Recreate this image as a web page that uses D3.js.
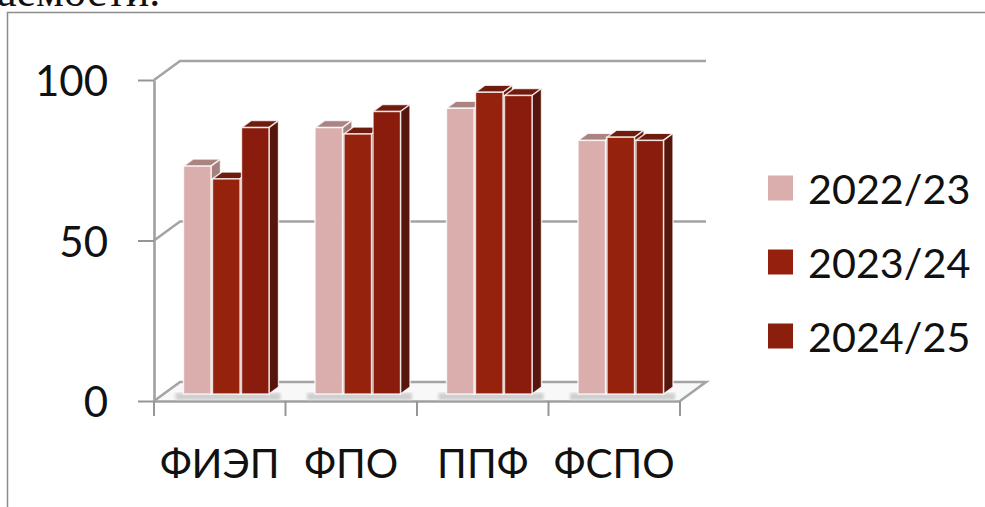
<!DOCTYPE html>
<html>
<head>
<meta charset="utf-8">
<script src="https://cdn.jsdelivr.net/npm/d3@7"></script>
<style>
  html, body { margin: 0; padding: 0; background: #fff; overflow: hidden; }
  text { font-family: Lato, "Open Sans", sans-serif; fill: #111; }
</style>
</head>
<body>
<div id="chart"></div>
<script>
const categories = ["ФИЭП", "ФПО", "ППФ", "ФСПО"];
const seriesNames = ["2022/23", "2023/24", "2024/25"];
const values2022 = [71, 83, 89, 79];
const values2023 = [67, 81, 94, 80];
const values2024 = [83, 88, 93, 79];
const seriesValues = [values2022, values2023, values2024];
const yTicks = [0, 50, 100];

const WIDTH = 985, HEIGHT = 507;
const faceColors = ["#d9aeac", "#95200e", "#8a1f0d"];
const topColors = ["#ab8482", "#6e1a0a", "#6e1a0a"];
const sideColors = ["#a5807f", "#6a1709", "#561307"];

const svg = d3.select("#chart").append("svg")
    .attr("width", WIDTH)
    .attr("height", HEIGHT);

const defs = svg.append("defs");
defs.append("filter").attr("id", "soft").append("feGaussianBlur").attr("stdDeviation", 0.45);
defs.append("filter").attr("id", "shadow").append("feGaussianBlur").attr("stdDeviation", 1.6);

// clipped line of the surrounding document, then the chart frame
svg.append("text")
    .attr("x", -3).attr("y", 6)
    .style("font-family", "'Liberation Serif', serif")
    .style("font-size", "44px")
    .text("аемости.");
svg.append("path")
    .attr("d", `M7.5,${HEIGHT} V12.5 H${WIDTH}`)
    .attr("fill", "none")
    .attr("stroke", "#8c8c8c")
    .attr("stroke-width", 1.5);

// scales: the front edge of the 3d box
const x = d3.scaleBand().domain(categories).range([154, 680]);
const y = d3.scaleLinear().domain([0, 100]).range([401, 80]);
const depth = { x: 26, y: -19 };        // front edge to back wall
const barShift = { x: 29.5, y: -7 };    // bars stand inside the box
const barDepth = { x: 9.5, y: -7 };
const barStep = 29, barWidth = 27.5;

const wall = svg.append("g").attr("filter", "url(#soft)");

// floor
wall.append("path")
    .attr("d", `M${x.range()[0]},${y(0)} L${x.range()[0] + depth.x},${y(0) + depth.y} H${x.range()[1] + depth.x} L${x.range()[1]},${y(0)} Z`)
    .attr("fill", "#f8f8f8");

// gridlines go along the left wall and the back wall
yTicks.forEach(t => {
    wall.append("path")
        .attr("d", `M${x.range()[0]},${y(t)} l${depth.x},${depth.y} H${x.range()[1] + depth.x}` + (t === 0 ? ` L${x.range()[1]},${y(0)}` : ""))
        .attr("fill", "none")
        .attr("stroke", "#a4a4a4")
        .attr("stroke-width", 2.6);
});

// axes
const yAxisCall = d3.axisLeft(y).tickValues(yTicks).tickSize(16).tickPadding(30).tickSizeOuter(0);
const yAxisGroup = svg.append("g")
    .attr("transform", `translate(${x.range()[0]},0)`)
    .call(yAxisCall);

const xAxisCall = d3.axisBottom(x).tickSize(0).tickPadding(48);
const xAxisGroup = svg.append("g")
    .attr("transform", `translate(0,${y(0)})`)
    .call(xAxisCall);

[yAxisGroup, xAxisGroup].forEach(g => {
    g.selectAll(".domain").attr("stroke", "#a0a0a0").attr("stroke-width", 2.6);
    g.selectAll("line").attr("stroke", "#969696").attr("stroke-width", 2);
    g.selectAll("text").style("font-size", "40.5px").attr("fill", "#111");
});
yAxisGroup.selectAll("text").style("font-size", "42px").attr("dy", "0.38em");

// x ticks sit on the band edges, not the centres
svg.append("g").selectAll("line")
    .data(categories.map(c => x(c)).concat(x.range()[1]))
    .enter().append("line")
    .attr("x1", d => d).attr("x2", d => d)
    .attr("y1", y(0)).attr("y2", y(0) + 15)
    .attr("stroke", "#969696")
    .attr("stroke-width", 2);

// soft shadow under each group of bars
svg.append("g").attr("filter", "url(#shadow)")
    .selectAll("rect").data(categories).enter().append("rect")
    .attr("x", d => x(d) + barShift.x - 8)
    .attr("y", y(0) + barShift.y - 1)
    .attr("width", barStep * 3 + 18)
    .attr("height", 7)
    .attr("fill", "#cfcfcf");

const marks = svg.append("g").attr("filter", "url(#soft)");

// drawn left to right so the next bar covers the side of the previous one
categories.forEach((c, ci) => {
    seriesValues.forEach((vals, si) => {
        const x0 = x(c) + barShift.x + si * barStep;
        const x1 = x0 + barWidth;
        const top = y(vals[ci]) + barShift.y;
        const bottom = y(0) + barShift.y;
        const g = marks.append("g")
            .attr("stroke", "#fff")
            .attr("stroke-width", 1.4)
            .attr("stroke-opacity", 0.8);
        g.append("path")   // top face
            .attr("d", `M${x0},${top} l${barDepth.x},${barDepth.y} H${x1 + barDepth.x} L${x1},${top} Z`)
            .attr("fill", topColors[si]);
        g.append("path")   // side face
            .attr("d", `M${x1},${top} l${barDepth.x},${barDepth.y} V${bottom + barDepth.y} L${x1},${bottom} Z`)
            .attr("fill", sideColors[si]);
        g.append("rect")   // front face
            .attr("x", x0)
            .attr("y", top)
            .attr("width", barWidth)
            .attr("height", bottom - top)
            .attr("fill", faceColors[si]);
    });
});

// legend
const legendY = d3.scalePoint().domain(seriesNames).range([188, 336]);
const legend = svg.append("g").selectAll("g")
    .data(seriesNames)
    .enter().append("g")
    .attr("transform", d => `translate(768,${legendY(d)})`);
legend.append("rect")
    .attr("x", 0).attr("y", -12.5)
    .attr("width", 25).attr("height", 25)
    .attr("fill", (d, i) => faceColors[i]);
legend.append("text")
    .attr("x", 40).attr("y", 16)
    .style("font-size", "41.3px")
    .text(d => d);
</script>
</body>
</html>
